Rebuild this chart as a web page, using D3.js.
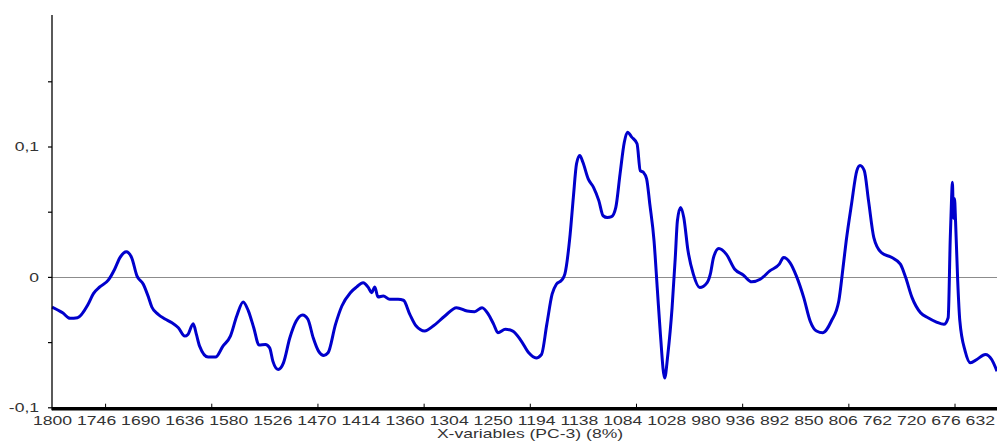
<!DOCTYPE html>
<html>
<head>
<meta charset="utf-8">
<script src="https://cdn.jsdelivr.net/npm/d3@7"></script>
<style>
  html, body { margin: 0; padding: 0; background: #fff; }
  svg { display: block; }
  text { font-family: "Liberation Sans", Arial, sans-serif; }
</style>
</head>
<body>
<svg id="chart" width="997" height="441"></svg>
<script>
// ---------------- data ----------------
const xTickLabels = ["1800","1746","1690","1636","1580","1526","1470","1414","1360","1304","1250","1194",
  "1138","1084","1028","980","936","892","850","806","762","720","676","632"];
const xMajorTicks = [50,150,250,350,450,550,650,750,850];
const xTitle = "X-variables (PC-3) (8%)";
const yTickValues = [-0.1,-0.05,0,0.05,0.1,0.15];
const yTickLabels = {"-0.1":"-0,1","0":"0","0.1":"0,1"};
const varIndex = [0,10,17,24,34,39,45,53,59,64,70,75,80,86,91,94,100,106,113,119,125,128,133,136,139,147,154,161,168,174,
  180,185,190,195,201,205,208,213,218,224,230,236,241,246,251,256,260,267,273,281,287,293,298,301,304,307,312,318,326,331,
  337,343,351,359,370,381,391,398,405,411,416,420,427,434,442,449,456,461,466,471,475,480,483,488,491,494,497,500,505,510,
  515,519,523,527,531,535,539,542,546,551,554,557,560,563,567,570,573,577,580,584,587,589,592,595,599,604,610,617,620,623,
  628,635,643,651,659,667,676,685,689,695,701,708,714,720,726,734,741,745,748,753,758,761,765,769,774,781,791,799,804,810,
  818,825,833,840,844,846,847,848,849,850,851,853,855,860,865,871,879,885,890];
const loading = [-0.0231,-0.0275,-0.0318,-0.0313,-0.0210,-0.0128,-0.0077,-0.0025,0.0059,0.0148,0.0192,0.0148,0.0008,-0.0056,-0.0159,-0.0231,-0.0287,-0.0321,-0.0352,-0.0390,-0.0454,-0.0441,-0.0359,-0.0441,-0.0531,-0.0615,-0.0615,-0.0531,-0.0454,-0.0300,
  -0.0192,-0.0262,-0.0390,-0.0523,-0.0518,-0.0544,-0.0646,-0.0710,-0.0659,-0.0467,-0.0338,-0.0292,-0.0325,-0.0467,-0.0569,-0.0602,-0.0582,-0.0364,-0.0223,-0.0121,-0.0077,-0.0044,-0.0082,-0.0121,-0.0077,-0.0154,-0.0146,-0.0172,-0.0172,-0.0179,
  -0.0287,-0.0377,-0.0415,-0.0377,-0.0300,-0.0236,-0.0262,-0.0267,-0.0236,-0.0287,-0.0364,-0.0428,-0.0402,-0.0415,-0.0492,-0.0582,-0.0621,-0.0595,-0.0364,-0.0133,-0.0056,-0.0025,0.0021,0.0328,0.0610,0.0867,0.0931,0.0879,0.0752,0.0687,
  0.0585,0.0469,0.0455,0.0462,0.0533,0.0790,0.1033,0.1110,0.1072,0.1021,0.0815,0.0802,0.0752,0.0559,0.0277,-0.0082,-0.0441,-0.0775,-0.0595,-0.0236,0.0148,0.0431,0.0533,0.0456,0.0200,0.0021,-0.0082,-0.0044,0.0021,0.0148,
  0.0218,0.0175,0.0059,0.0015,-0.0038,-0.0018,0.0046,0.0098,0.0148,0.0110,0.0008,-0.0159,-0.0338,-0.0415,-0.0428,-0.0338,-0.0185,0.0072,0.0277,0.0559,0.0815,0.0854,0.0815,0.0585,0.0302,0.0187,0.0148,0.0098,-0.0005,-0.0159,
  -0.0275,-0.0313,-0.0346,-0.0364,-0.0313,0.0302,0.0550,0.0725,0.0450,0.0600,0.0420,-0.0031,-0.0338,-0.0569,-0.0659,-0.0633,-0.0595,-0.0633,-0.0723];

// ---------------- chart ----------------
const svg = d3.select("#chart");
const textStretch = 1.35;
const x = d3.scaleLinear().domain([0, 890]).range([52, 997]);
const y = d3.scaleLinear().domain([-0.1, 0.2]).range([407.3, 16.1]);

// zero reference line
svg.append("line")
  .attr("x1", x(0)).attr("x2", x(890))
  .attr("y1", Math.round(y(0)) + 0.5).attr("y2", Math.round(y(0)) + 0.5)
  .attr("stroke", "#8c8c8c").attr("stroke-width", 1);

// curve
const pts = varIndex.map((d, i) => [d, loading[i]]);
svg.append("path")
  .datum(pts)
  .attr("fill", "none")
  .attr("stroke", "#0000cc")
  .attr("stroke-width", 3)
  .attr("stroke-linejoin", "round")
  .attr("d", d3.line().x(d => x(d[0])).y(d => y(d[1])).curve(d3.curveMonotoneX));

// y axis
const yAxis = svg.append("g")
  .attr("transform", "translate(52,0)")
  .call(d3.axisLeft(y).tickValues(yTickValues).tickSize(4).tickPadding(5.6)
    .tickFormat(d => yTickLabels[String(+d.toFixed(2))] || ""));
yAxis.select(".domain").remove();
yAxis.selectAll(".tick line").attr("stroke", "#000").attr("stroke-width", 1.2);
yAxis.selectAll(".tick text")
  .attr("fill", "#333").attr("font-size", 13)
  .attr("font-family", "'Liberation Sans', Arial, sans-serif")
  .attr("transform", `scale(${textStretch},1)`);
svg.append("line")
  .attr("x1", 52).attr("x2", 52)
  .attr("y1", y(0.2) - 1).attr("y2", y(-0.1) + 3)
  .attr("stroke", "#000").attr("stroke-width", 1.3);

// x axis (ticks)
const xAxis = svg.append("g")
  .attr("transform", `translate(0,${y(-0.1) + 1.4})`)
  .call(d3.axisBottom(x).tickValues(xMajorTicks).tickSizeInner(-5).tickSizeOuter(0).tickFormat(""));
xAxis.select(".domain").remove();
xAxis.selectAll(".tick line").attr("stroke", "#000").attr("stroke-width", 1);
svg.append("line")
  .attr("x1", x(0)).attr("x2", x(890))
  .attr("y1", y(-0.1) + 1.4).attr("y2", y(-0.1) + 1.4)
  .attr("stroke", "#000").attr("stroke-width", 3.5);

// x tick labels: laid out one after another, stretched horizontally
const lblG = svg.append("g");
const inner = lblG.append("g");
let cx = 0;
const spaceW = 13 * 0.278;
const lbls = inner.selectAll("text").data(xTickLabels).enter().append("text")
  .attr("font-size", 13).attr("fill", "#333").attr("y", 0)
  .text(d => d);
lbls.each(function() {
  const w = this.getComputedTextLength();
  d3.select(this).attr("x", cx);
  cx += w + spaceW;
});
const totalW = cx - spaceW;
const sx = (995 - 33) / totalW;
lblG.attr("transform", `translate(33,425) scale(${sx},1)`);

// x title
svg.append("g")
  .attr("transform", `translate(530,438) scale(${textStretch},1)`)
  .append("text")
  .attr("text-anchor", "middle").attr("font-size", 13).attr("fill", "#333")
  .text(xTitle);
</script>
</body>
</html>
